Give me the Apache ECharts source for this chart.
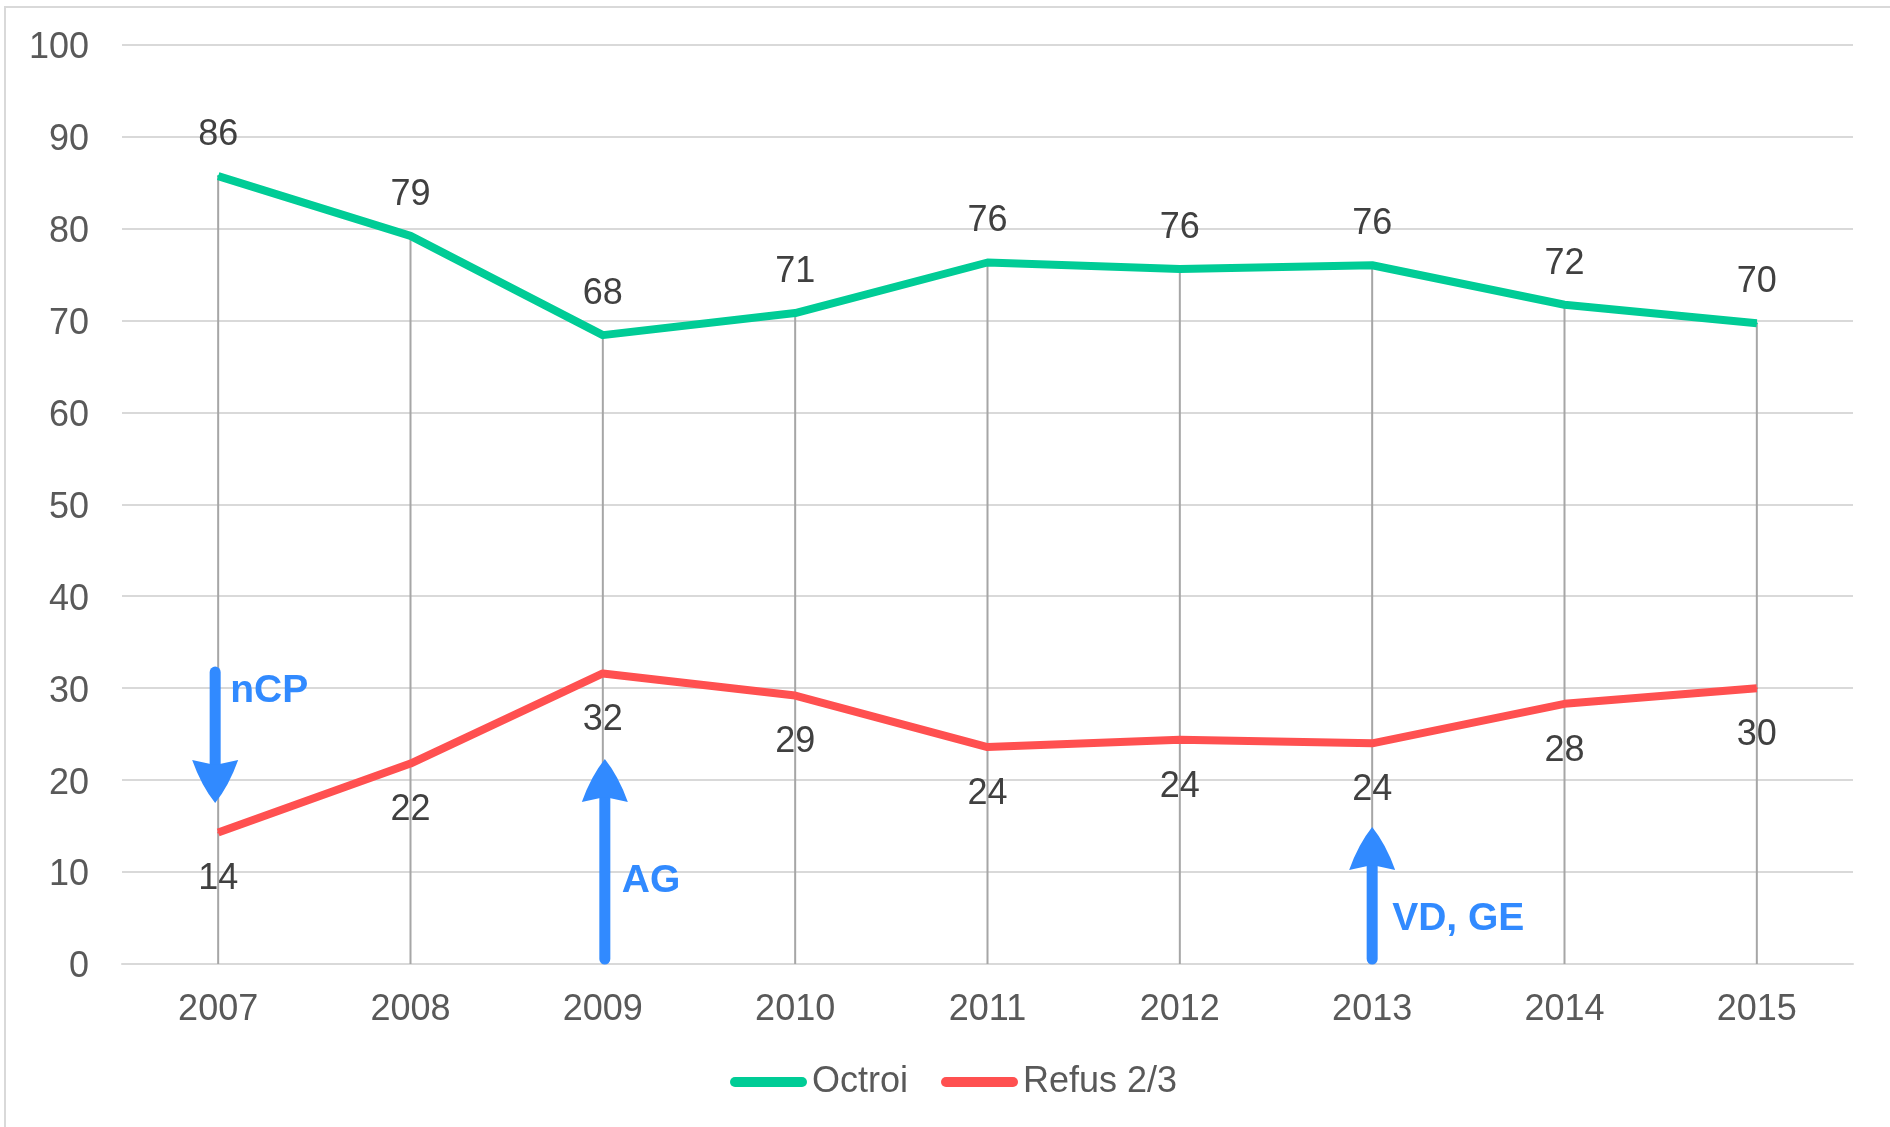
<!DOCTYPE html>
<html>
<head>
<meta charset="utf-8">
<script src="https://cdn.jsdelivr.net/npm/echarts@6/dist/echarts.min.js"></script>
<style>
html,body{margin:0;padding:0;background:#ffffff;}
#chart{width:1890px;height:1127px;}
</style>
</head>
<body>
<div id="chart"></div>
<script>
// ---- data ----
const years = ['2007','2008','2009','2010','2011','2012','2013','2014','2015'];
const octroi = [85.7, 79.2, 68.4, 70.8, 76.3, 75.6, 76.0, 71.7, 69.7];
const refus  = [14.3, 21.8, 31.6, 29.2, 23.6, 24.4, 24.0, 28.3, 30.0];
const seriesNames = ['Octroi', 'Refus 2/3'];
const yMin = 0, yMax = 100, yStep = 10;

// annotations (arrows + labels), in data units
const annotYears  = ['2007', '2009', '2013'];
const annotFrom   = [32.3, 0, 0];
const annotTo     = [17.5, 22.3, 14.9];
const annotText   = ['nCP', 'AG', 'VD, GE'];
const annotTextAt = [30.0, 9.4, 5.2];

// ---- styles ----
const FONT = '"Liberation Sans", Arial, sans-serif';
const GREEN = '#00CC96';
const RED = '#FF5050';
const BLUE = '#318AFF';
const ANNOT_STYLE = [{dx: -3, tx: 9}, {dx: 2, tx: 21}, {dx: 0, tx: 20}];
const LEGEND_ICON = 'path://M5,0 L72,0 A5,5 0 0 1 72,10 L5,10 A5,5 0 0 1 5,0 Z';

const chart = echarts.init(document.getElementById('chart'), null, {renderer: 'canvas'});

const annotData = annotYears.map((y, i) => [years.indexOf(y), annotFrom[i], annotTo[i], annotTextAt[i]]);

function renderArrow(params, api) {
  const i = params.dataIndex;
  const st = ANNOT_STYLE[i];
  const c = api.value(0);
  const p0 = api.coord([c, api.value(1)]);
  const p1 = api.coord([c, api.value(2)]);
  const pt = api.coord([c, api.value(3)]);
  const x = p0[0] + st.dx;
  const yTip = p1[1];
  const d = yTip > p0[1] ? 1 : -1;
  const L = 43, W = 46;
  const baseY = yTip - d * L;
  const notchY = yTip - d * (L - 5);
  const shaftEnd = yTip - d * (L - 8);
  const path =
    'M' + x + ',' + yTip +
    ' Q' + (x + W * 0.30) + ',' + (yTip - d * L * 0.40) + ' ' + (x + W / 2) + ',' + baseY +
    ' L' + x + ',' + notchY +
    ' L' + (x - W / 2) + ',' + baseY +
    ' Q' + (x - W * 0.30) + ',' + (yTip - d * L * 0.40) + ' ' + x + ',' + yTip + ' Z';
  return {
    type: 'group',
    children: [
      {
        type: 'line',
        shape: {x1: x, y1: p0[1] + d * 5, x2: x, y2: shaftEnd},
        style: {stroke: BLUE, lineWidth: 11, lineCap: 'round'}
      },
      {
        type: 'path',
        shape: {pathData: path},
        style: {fill: BLUE}
      },
      {
        type: 'text',
        x: p0[0] - st.dx + st.tx,
        y: pt[1] + 3.5,
        style: {
          text: annotText[i],
          fill: BLUE,
          font: 'bold 39px ' + FONT,
          align: 'left',
          verticalAlign: 'middle'
        }
      }
    ]
  };
}

const option = {
  backgroundColor: '#ffffff',
  animation: false,
  graphic: [
    {
      type: 'rect',
      z: -10,
      shape: {x: 5, y: 7, width: 2000, height: 2000},
      style: {fill: 'none', stroke: '#d9d9d9', lineWidth: 2}
    }
  ],
  grid: {left: 122, right: 37, top: 44.6, bottom: 163, containLabel: false},
  legend: {
    data: seriesNames,
    left: 730,
    top: 1064,
    padding: 0,
    itemWidth: 77,
    itemHeight: 10,
    itemGap: 33,
    icon: LEGEND_ICON,
    textStyle: {fontFamily: FONT, fontSize: 36, color: '#595959'}
  },
  xAxis: {
    type: 'category',
    data: years,
    boundaryGap: true,
    axisLine: {show: true, lineStyle: {color: '#d9d9d9', width: 2}},
    axisTick: {show: false},
    axisLabel: {fontFamily: FONT, fontSize: 36, color: '#595959', margin: 28},
    splitLine: {show: false}
  },
  yAxis: {
    type: 'value',
    min: yMin,
    max: yMax,
    interval: yStep,
    axisLine: {show: false},
    axisTick: {show: false},
    axisLabel: {
      margin: 33,
      formatter: v => '{t|' + v + '}',
      rich: {t: {fontFamily: FONT, fontSize: 36, color: '#595959', padding: [7, 0, 0, 0]}}
    },
    splitLine: {show: true, lineStyle: {color: '#d9d9d9', width: 2}}
  },
  series: [
    {
      name: 'drop',
      type: 'bar',
      data: octroi,
      barWidth: 2,
      itemStyle: {color: '#a6a6a6'},
      silent: true,
      z: 1
    },
    {
      name: seriesNames[0],
      type: 'line',
      data: octroi,
      color: GREEN,
      symbol: 'circle',
      symbolSize: 2,
      lineStyle: {width: 8, color: GREEN, join: 'round'},
      itemStyle: {color: GREEN},
      label: {
        show: true, position: 'top', distance: 22,
        fontFamily: FONT, fontSize: 36, color: '#404040',
        formatter: p => String(Math.round(p.value))
      },
      z: 3
    },
    {
      name: seriesNames[1],
      type: 'line',
      data: refus,
      color: RED,
      symbol: 'circle',
      symbolSize: 2,
      lineStyle: {width: 8, color: RED, join: 'round'},
      itemStyle: {color: RED},
      label: {
        show: true, position: 'bottom', distance: 28,
        fontFamily: FONT, fontSize: 36, color: '#404040',
        formatter: p => String(Math.round(p.value))
      },
      z: 3
    },
    {
      name: 'annotations',
      type: 'custom',
      data: annotData,
      renderItem: renderArrow,
      silent: true,
      z: 5
    }
  ]
};
chart.setOption(option);
</script>
</body>
</html>
